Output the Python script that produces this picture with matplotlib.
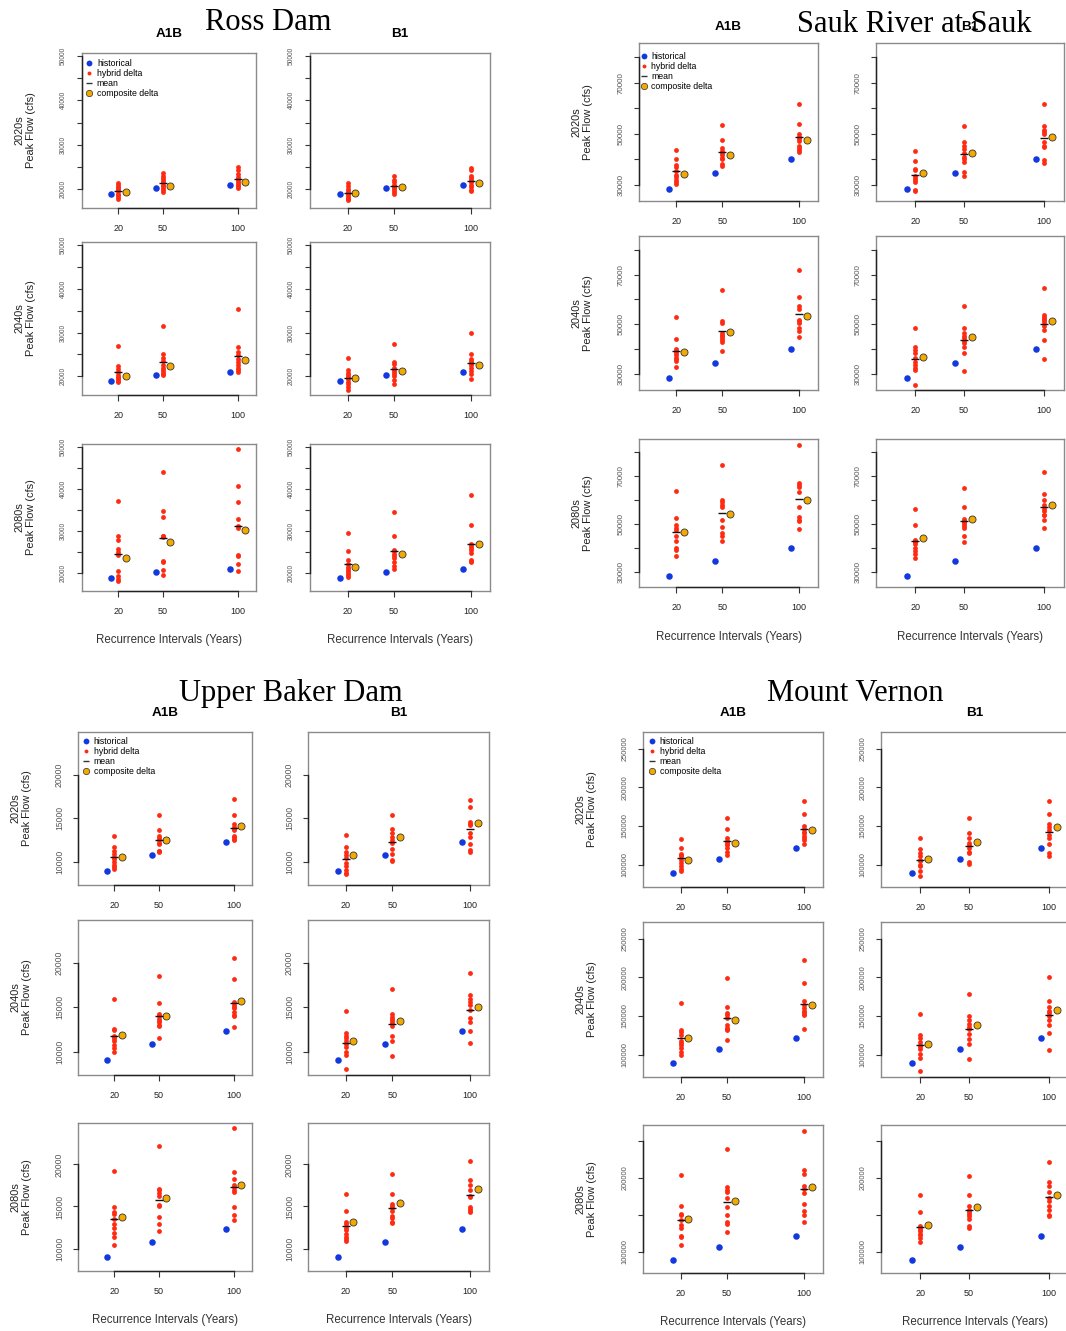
import numpy as np
import matplotlib
matplotlib.use('Agg')
import matplotlib.pyplot as plt
from matplotlib.lines import Line2D


plt.rcParams.update({'font.family': 'Liberation Sans', 'font.size': 7})

W, H = 1066, 1331
PX = 0.72  # points per pixel at dpi 100

BLUE = '#1238e0'
RED = '#ff2a12'
ORANGE = '#f2a900'

PERIODS = [20, 50, 100]
DECADES = ['2020s', '2040s', '2080s']
SCENARIOS = ['A1B', 'B1']
LEGEND_LABELS = ['historical', 'hybrid delta', 'mean', 'composite delta']

# ---- Ross Dam ----
ROSS_HIST = [18900, 20250, 21000]
ROSS_A1B = [
	[[21400, 21000, 20500, 20200, 19900, 19500, 19000, 18600, 18200, 17800],
	 [23600, 23000, 22500, 22000, 21500, 21000, 20600, 20200, 19700, 19300],
	 [25000, 24300, 23500, 22700, 22200, 21800, 21400, 21000, 20600, 20200]],
	[[27000, 22400, 21600, 21000, 20400, 19900, 19600, 19300, 19000, 18800],
	 [31600, 25200, 24300, 23500, 22700, 22000, 21500, 21000, 20600, 20200],
	 [35300, 26800, 25600, 24900, 24000, 23300, 22600, 22000, 21500, 21100]],
	[[37000, 28700, 27800, 25800, 25000, 24200, 20600, 19200, 18600, 18100],
	 [43900, 34800, 33300, 28900, 28700, 28500, 22900, 22700, 20800, 19600],
	 [49400, 40600, 36800, 32800, 31100, 30800, 24400, 24000, 22100, 20400]],
]
ROSS_B1 = [
	[[21300, 20600, 20000, 19600, 19200, 18800, 18500, 18100, 17800, 17500],
	 [23000, 22000, 21500, 21000, 20800, 20500, 20200, 19800, 19300, 18800],
	 [24800, 24200, 23000, 22400, 22000, 21600, 21000, 20400, 19900, 19500]],
	[[24100, 21500, 20800, 20300, 19800, 19300, 18800, 18200, 17600, 16900],
	 [27400, 23300, 22800, 22000, 21400, 21000, 20500, 20000, 19100, 18300],
	 [30000, 25000, 24000, 23500, 23000, 22500, 21900, 21300, 20500, 19300]],
	[[29500, 25200, 23200, 22100, 21500, 21000, 20500, 20000, 19500, 19100],
	 [34500, 28700, 25600, 25200, 24600, 24000, 23500, 22600, 21600, 21000],
	 [38500, 31400, 27000, 26500, 26000, 25500, 24700, 23200, 22800, 22600]],
]
ROSS_A1B_COMP = [[19250, 20750, 21580], [20150, 22280, 23800], [23650, 27380, 30160]]
ROSS_B1_COMP = [[19170, 20530, 21430], [19540, 21290, 22500], [21430, 24450, 26830]]

# ---- Sauk River at Sauk ----
SAUK_HIST = [28400, 34650, 40000]
SAUK_A1B = [
	[[43500, 40200, 37600, 37000, 35300, 34000, 33000, 32000, 31000, 30200],
	 [53500, 47600, 44300, 43300, 42500, 41500, 40600, 40000, 38000, 37300],
	 [61800, 53900, 49900, 48600, 47800, 47200, 45300, 44500, 43700, 42700]],
	[[53000, 44000, 40100, 39300, 38500, 37700, 36700, 36000, 35300, 32700],
	 [63700, 51300, 50700, 46400, 45800, 45300, 44400, 43600, 42800, 39300],
	 [72000, 61000, 57300, 56300, 51700, 51200, 50700, 48600, 47500, 45000]],
	[[63600, 52600, 49400, 48500, 47600, 45000, 42900, 40100, 39300, 36500],
	 [74700, 60100, 59200, 57800, 57100, 51800, 48800, 46300, 45000, 42900],
	 [83100, 67200, 66100, 65400, 63300, 57100, 52900, 51800, 51300, 47800]],
]
SAUK_B1 = [
	[[43300, 39500, 36300, 35700, 33500, 32800, 32000, 31000, 28100, 27400],
	 [53200, 46800, 45300, 43900, 42300, 41000, 40200, 39000, 34900, 33600],
	 [61800, 53200, 51600, 50500, 49900, 46600, 45300, 44800, 39600, 38600]],
	[[48400, 40800, 39700, 38700, 36400, 35000, 33700, 32600, 31500, 25700],
	 [57400, 48400, 46400, 45300, 44400, 43400, 42400, 40800, 38400, 31300],
	 [64700, 53900, 53000, 52300, 51700, 51000, 49500, 47700, 43700, 36000]],
	[[56400, 49700, 43500, 42900, 42500, 41500, 40100, 38800, 37600, 35600],
	 [65100, 57100, 52000, 51400, 50800, 49800, 49000, 48500, 45000, 42500],
	 [71700, 62600, 60100, 57800, 56400, 55500, 53600, 53600, 51500, 48500]],
]
SAUK_A1B_COMP = [[34240, 41670, 47640], [39040, 47020, 53410], [46530, 54310, 60140]]
SAUK_B1_COMP = [[34640, 42330, 48560], [36780, 44760, 51280], [44030, 51950, 57780]]

# ---- Upper Baker Dam ----
UB_HIST = [9000, 10830, 12320]
UB_A1B = [
	[[13000, 11700, 11200, 10900, 10600, 10300, 10000, 9700, 9400, 9200],
	 [15400, 13700, 13000, 12700, 12500, 12200, 12000, 11300, 11100, 11200],
	 [17200, 15400, 14400, 14000, 13800, 13700, 13000, 12800, 12600, 12500]],
	[[15900, 12600, 12400, 11800, 11400, 11200, 10700, 10400, 9900, 11600],
	 [18600, 15500, 14300, 14000, 13700, 13500, 13400, 13000, 12900, 11500],
	 [20600, 18200, 15600, 15300, 15000, 14900, 14500, 14100, 14000, 12800]],
	[[19200, 14900, 14400, 14100, 13500, 12900, 12400, 11900, 11400, 10400],
	 [22200, 17100, 16900, 16600, 16200, 15200, 15100, 13700, 12900, 12100],
	 [24300, 19100, 18300, 17600, 17300, 17000, 16700, 14900, 14000, 13400]],
]
UB_B1 = [
	[[13100, 11700, 11100, 10800, 10500, 9900, 9500, 9100, 8700, 8600],
	 [15400, 13800, 13300, 12900, 12500, 12200, 11500, 10900, 10200, 10100],
	 [17100, 16300, 14600, 14400, 14200, 13300, 12900, 12100, 11400, 11100]],
	[[14600, 12100, 11800, 11500, 11200, 10900, 10500, 9900, 9600, 8000],
	 [17100, 14300, 13900, 13700, 13500, 13200, 12900, 11800, 11200, 9500],
	 [18900, 16400, 16000, 15600, 15300, 14700, 13800, 13300, 12300, 11000]],
	[[16500, 14500, 13200, 12900, 12500, 12200, 11700, 11400, 11100, 10900],
	 [18800, 16500, 15300, 15000, 14800, 14500, 13900, 13600, 13200, 13000],
	 [20400, 18100, 17600, 16900, 16300, 16100, 14900, 14700, 14500, 14300]],
]
UB_A1B_COMP = [[10530, 12530, 14110], [11900, 14030, 15700], [13800, 16000, 17600]]
UB_B1_COMP = [[10750, 12830, 14490], [11250, 13420, 15060], [13160, 15400, 17080]]

# ---- Mount Vernon ----
MV_HIST = [89000, 107000, 121500]
MV_A1B = [
	[[133400, 121400, 114100, 112000, 110700, 106000, 102100, 98000, 94400, 91400],
	 [160900, 145900, 134300, 131000, 130000, 127000, 125700, 122000, 117100, 112000],
	 [182300, 165100, 150100, 145900, 142000, 140700, 137000, 134000, 132100, 127000]],
	[[166800, 132000, 129000, 126000, 118000, 115000, 112000, 108600, 104000, 99100],
	 [199600, 161600, 154300, 150900, 147400, 137900, 134000, 132800, 131500, 118500],
	 [222800, 193100, 169000, 164700, 160300, 157000, 155200, 152000, 150900, 133600]],
	[[204300, 162200, 151000, 149300, 143000, 136700, 132200, 121000, 120200, 108500],
	 [238400, 187300, 183700, 180200, 172500, 160500, 150200, 139900, 138100, 126400],
	 [263400, 210600, 205200, 189100, 185000, 179300, 164900, 154600, 150200, 139900]],
]
MV_B1 = [
	[[134300, 120600, 115000, 110700, 106000, 104300, 100000, 97900, 91400, 85900],
	 [160900, 140700, 134300, 127900, 125000, 121000, 117100, 115000, 103000, 100900],
	 [182300, 165600, 152700, 148400, 145000, 138600, 135000, 127000, 115000, 110700]],
	[[152200, 125000, 121600, 116400, 112000, 109900, 106900, 101300, 95700, 78900],
	 [178900, 149600, 144400, 140100, 135800, 133000, 127200, 120700, 114200, 94000],
	 [200400, 169000, 161600, 157000, 154300, 149600, 145000, 137900, 128500, 105600]],
	[[176100, 153300, 135400, 132200, 130000, 127800, 124600, 122400, 118000, 113000],
	 [202500, 177000, 161400, 156900, 154000, 151500, 148000, 144800, 134500, 132200],
	 [221800, 194900, 188200, 180200, 172500, 168100, 162200, 156900, 150200, 147900]],
]
MV_A1B_COMP = [[105570, 127860, 145000], [121550, 145250, 164650], [144780, 168960, 186870]]
MV_B1_COMP = [[107290, 130000, 149290], [114220, 137930, 157320], [135820, 160010, 177020]]


# layout of each block in pixels
BLOCKS = [
	dict(title='Ross Dam', title_xy=(268, 30), sub_y=34,
		cols=[(82, 256), (310, 490)], rows=[(53, 208), (242, 395), (444, 591)],
		hist=ROSS_HIST, hyb=[ROSS_A1B, ROSS_B1], comp=[ROSS_A1B_COMP, ROSS_B1_COMP],
		ylim=(15750, 50650), yticks=[20000, 25000, 30000, 35000, 40000, 45000, 50000],
		ylabeled=[[20000, 30000, 40000, 50000]] * 3, yfs=4.8, leg=(7, 11)),
	dict(title='Sauk River at Sauk', title_xy=(914, 31.5), sub_y=27,
		cols=[(639, 818), (876, 1064)], rows=[(43, 201), (236, 390), (439, 587)],
		hist=SAUK_HIST, hyb=[SAUK_A1B, SAUK_B1], comp=[SAUK_A1B_COMP, SAUK_B1_COMP],
		ylim=(23650, 85500), yticks=[30000, 40000, 50000, 60000, 70000, 80000],
		ylabeled=[[30000, 50000, 70000]] * 3, yfs=5.8, leg=(4.5, 14.3)),
	dict(title='Upper Baker Dam', title_xy=(291, 701.5), sub_y=712.7,
		cols=[(78, 252), (308, 489)], rows=[(732, 885), (920, 1075), (1123, 1271)],
		hist=UB_HIST, hyb=[UB_A1B, UB_B1], comp=[UB_A1B_COMP, UB_B1_COMP],
		ylim=(7350, 24900), yticks=[10000, 15000, 20000],
		ylabeled=[[10000, 15000, 20000]] * 3, yfs=6.2, leg=(8, 10)),
	dict(title='Mount Vernon', title_xy=(855, 701.5), sub_y=712.7,
		cols=[(643, 823), (881, 1069)], rows=[(732, 887), (922, 1077), (1125, 1273)],
		hist=MV_HIST, hyb=[MV_A1B, MV_B1], comp=[MV_A1B_COMP, MV_B1_COMP],
		ylim=(71300, 271300), yticks=[100000, 150000, 200000, 250000],
		ylabeled=[[100000, 150000, 200000, 250000]] * 2 + [[100000, 200000]],
		yfs=5.4, leg=(8.7, 10.6)),
]


def add_axes_px(fig, col, row):
	l, r = col
	t, b = row
	return fig.add_axes([l / W, 1 - b / H, (r - l) / W, (b - t) / H])

def draw_panel(ax, hist, hyb, comp, block, labeled):
	for x, h, vals, c in zip(PERIODS, hist, hyb, comp):
		ax.scatter([x - 5], [h], s=22, color=BLUE, lw=0, zorder=3)
		ax.scatter([x] * len(vals), vals, s=12, color=RED, lw=0, zorder=3)
		ax.plot([x], [np.mean(vals)], ls='none', marker='_', ms=6, mew=1, color='#111111', zorder=4)
		ax.scatter([x + 5], [c], s=26, color=ORANGE, edgecolor='#333333', lw=0.6, zorder=3)

	xlim = (-4.3, 112.3)
	ax.set_xlim(*xlim)
	ax.set_ylim(*block['ylim'])
	ax.set_xticks(PERIODS)
	ax.set_xticklabels([str(p) for p in PERIODS], fontsize=6.5, color='#222222')
	yticks = block['yticks']
	ax.set_yticks(yticks)
	ax.set_yticklabels([str(v) if v in labeled else '' for v in yticks],
		fontsize=block['yfs'], color='#555555', rotation=90, va='center', ha='right')

	em = block['yfs'] / PX
	ax.tick_params(axis='x', length=5.5 * PX, width=0.8, color='#333333', pad=10.5 * PX)
	ax.tick_params(axis='y', length=5.5 * PX, width=0.8, color='#333333',
		pad=(19 - 5.5 - 0.58 * em) * PX)
	for side in ax.spines.values():
		side.set_color('#8a8a8a')
		side.set_linewidth(1.0)

	# R-style axis lines, from first to last tick
	ax.plot([xlim[0], xlim[0]], [yticks[0], yticks[-1]], color='#222222', lw=1, clip_on=False, zorder=5)
	ax.plot([PERIODS[0], PERIODS[-1]], [block['ylim'][0]] * 2, color='#222222', lw=1, clip_on=False, zorder=5)

def add_legend(ax, block, col, row):
	dx, dy = block['leg']
	fs = 6.3
	em = fs / PX
	hl = 0.8
	aw = col[1] - col[0]
	ah = row[1] - row[0]
	handles = [
		Line2D([], [], ls='none', marker='o', ms=4.2, color=BLUE, mew=0),
		Line2D([], [], ls='none', marker='o', ms=2.8, color=RED, mew=0),
		Line2D([], [], ls='none', marker='_', ms=5, mew=1, color='#333333'),
		Line2D([], [], ls='none', marker='o', ms=4.6, mfc=ORANGE, mec='#333333', mew=0.5),
	]
	anchor = ((dx - hl * em / 2) / aw, 1 - (dy - 0.6 * em) / ah)
	ax.legend(handles, LEGEND_LABELS, loc='upper left', bbox_to_anchor=anchor,
		frameon=False, fontsize=fs, handlelength=hl, handletextpad=0.5,
		labelspacing=0.12, borderaxespad=0, borderpad=0)


if __name__ == '__main__':

	fig = plt.figure(figsize=(W / 100, H / 100), dpi=100)

	for block in BLOCKS:
		for j, (scen, col) in enumerate(zip(SCENARIOS, block['cols'])):
			fig.text((col[0] + col[1]) / 2 / W, 1 - block['sub_y'] / H, scen,
				ha='center', va='center', fontsize=9.7, fontweight='bold')
			for i, (dec, row) in enumerate(zip(DECADES, block['rows'])):
				ax = add_axes_px(fig, col, row)
				draw_panel(ax, block['hist'], block['hyb'][j][i], block['comp'][j][i],
					block, block['ylabeled'][i])
				if j == 0:
					if i == 0:
						add_legend(ax, block, col, row)
					fig.text((col[0] - 57) / W, 1 - (row[0] + row[1]) / 2 / H,
						f'{dec}\nPeak Flow (cfs)', rotation=90, ha='center', va='center',
						fontsize=7.9, linespacing=1.15, color='#222222')
			last = block['rows'][-1]
			fig.text((col[0] + col[1]) / 2 / W, 1 - (last[1] + 49.5) / H,
				'Recurrence Intervals (Years)', ha='center', va='center',
				fontsize=8.3, color='#333333')
		tx, ty = block['title_xy']
		fig.text(tx / W, 1 - ty / H, block['title'], ha='center', va='baseline',
			fontsize=22, family='Liberation Serif')

	fig.savefig('out.png', dpi=100)
